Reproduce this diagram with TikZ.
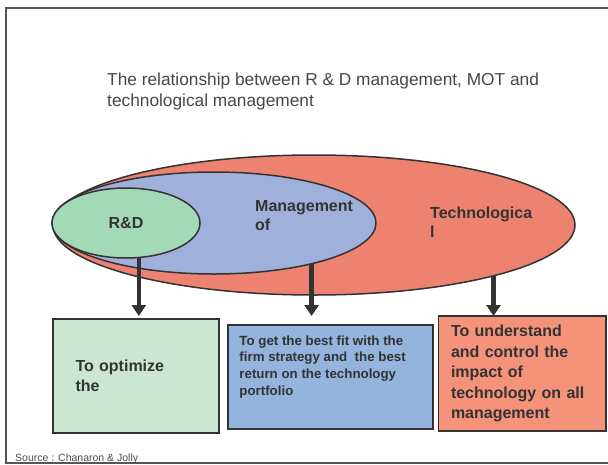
\documentclass[tikz,border=0pt]{standalone}
\usepackage{fontspec}
\setmainfont{Liberation Sans}
\usepackage{xcolor}
\usepackage{tikz}
\usetikzlibrary{positioning,shapes.geometric,arrows.meta}
\definecolor{techred}{HTML}{EE8270}
\definecolor{motblue}{HTML}{9FB1DA}
\definecolor{rdgreen}{HTML}{A3D9B5}
\definecolor{rdbox}{HTML}{CCE6D4}
\definecolor{motbox}{HTML}{94B3DD}
\definecolor{techbox}{HTML}{F4937A}
\definecolor{inkgray}{HTML}{333333}
\definecolor{framegray}{HTML}{555555}
\tikzstyle{arrow} = [line width=4.5pt,-{Triangle[length=11pt,width=14pt]},color=inkgray]
\tikzstyle{blob} = [ellipse,draw=inkgray,line width=1.5pt,inner sep=0pt]
\tikzstyle{box} = [rectangle,draw=inkgray,line width=1.5pt,align=left,text=inkgray,font=\bfseries\fontsize{16}{20.5}\selectfont]
\tikzstyle{lbl} = [inner sep=0pt,align=left,text=inkgray,font=\bfseries\fontsize{16}{19}\selectfont]

\begin{document}
\begin{tikzpicture}[x=1pt,y=-1pt]
          % basics
          \useasboundingbox (0,0) rectangle (608,464);
          \draw [framegray,line width=2.5pt] (612,8) -- (6,8) -- (6,463) -- (612,463);
          \node [anchor=north west,inner sep=0pt,align=left,text=black!72,font=\fontsize{17.3}{21}\selectfont] (title) at (107,72.5)
                {The relationship between R \& D management, MOT and\\technological management};

          % ellipses
          \node [blob,fill=techred,minimum width=522pt,minimum height=140pt] (tech) at (314,225) {};
          \node [blob,fill=motblue,minimum width=324pt,minimum height=102pt] (mot) at (214,223) {};
          \node [blob,fill=rdgreen,minimum width=148pt,minimum height=70pt,text=inkgray,font=\bfseries\fontsize{16}{19}\selectfont] (rd) at (126,223) {R\&D};
          \node [lbl,anchor=north west] (motlabel) at (255,200) {Management\\of};
          \node [lbl,anchor=north west] (techlabel) at (430,207) {Technologica\\l};

          % boxes
          \node [box,fill=rdbox,minimum width=166pt,minimum height=114pt,inner xsep=22.5pt,text width=121pt] (optbox) at (136,376) {To optimize\\the};
          \node [box,fill=motbox,minimum width=205pt,minimum height=104pt] (fitbox) at (330.5,377) {};
          \node [lbl,anchor=north west,font=\bfseries\fontsize{13.3}{16.7}\selectfont] (fittext) at ([xshift=12pt,yshift=-11pt]fitbox.north west)
                {To get the best fit with the\\firm strategy and\ \ the best\\return on the technology\\portfolio};
          \node [box,fill=techbox,minimum width=167.5pt,minimum height=115pt,inner xsep=12.5pt,text width=142.5pt] (impactbox) at (522.25,373.5)
                {To understand\\and control the\\impact of\\technology on all\\management};

          % arrows
          \coordinate (tipline) at (0,316);
          \draw [arrow] (rd.-70) -- (rd.-70 |- tipline);
          \draw [arrow] (mot.-23.6) -- (mot.-23.6 |- tipline);
          \draw [arrow] (tech.-16.6) -- (tech.-16.6 |- tipline);

          \node [anchor=base west,inner sep=0pt,text=black!70,font=\fontsize{10.5}{12}\selectfont] (source) at (15,461) {Source : Chanaron \& Jolly};
\end{tikzpicture}
\end{document}
